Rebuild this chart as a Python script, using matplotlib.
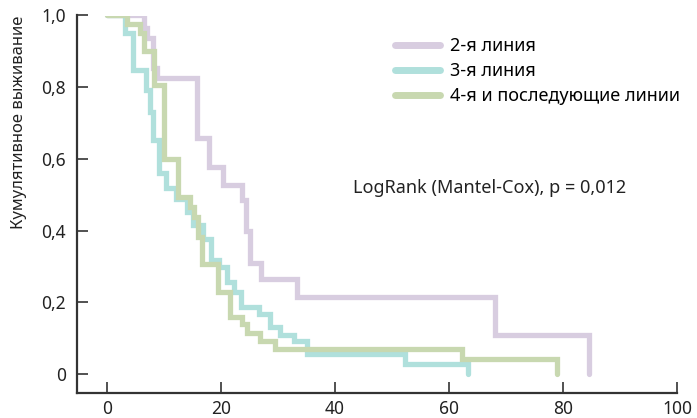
import matplotlib
matplotlib.use("Agg")
import matplotlib.pyplot as plt

# Kaplan-Meier steps (months, cumulative survival)
line2_t = [0, 6.4, 7.0, 8.1, 8.7, 15.7, 17.8, 20.4, 23.7, 24.4, 25.1, 27.0, 33.3, 68.0, 84.6]
line2_s = [1.0, 0.965, 0.937, 0.853, 0.826, 0.657, 0.577, 0.527, 0.485, 0.40, 0.31, 0.266, 0.214, 0.109, 0.0]

line3_t = [0, 3.2, 4.5, 6.8, 7.5, 8.1, 9.1, 10.4, 12.0, 14.0, 15.1, 16.9, 18.2, 19.6, 21.0,
           22.2, 23.5, 26.7, 28.6, 30.4, 32.7, 35.1, 52.3, 63.4]
line3_s = [1.0, 0.951, 0.849, 0.793, 0.732, 0.653, 0.56, 0.518, 0.489, 0.452, 0.415, 0.377, 0.317, 0.298, 0.258,
           0.228, 0.188, 0.167, 0.13, 0.108, 0.092, 0.055, 0.027, 0.0]

line4_t = [0, 3.4, 5.8, 6.4, 8.3, 9.9, 12.5, 14.6, 15.2, 16.0, 16.7, 19.4, 21.6, 23.7, 24.6, 26.9, 29.5, 62.2, 78.9]
line4_s = [1.0, 0.975, 0.951, 0.90, 0.807, 0.60, 0.494, 0.466, 0.438, 0.382, 0.307, 0.228, 0.158, 0.139, 0.114,
           0.092, 0.069, 0.041, 0.0]

labels = ["2-я линия", "3-я линия", "4-я и последующие линии"]
colors = ["#d8cde0", "#b0e0dc", "#c8d8b0"]

x_ticks = [0, 20, 40, 60, 80, 100]
y_ticks = [0, 0.2, 0.4, 0.6, 0.8, 1.0]
y_labels = ["0", "0,2", "0,4", "0,6", "0,8", "1,0"]

plt.rcParams["font.family"] = ["Noto Sans", "DejaVu Sans"]

fig = plt.figure(figsize=(6.97, 4.18), dpi=100)
ax = fig.add_axes([77 / 697, 1 - 393 / 418, 600 / 697, 377.5 / 418])

for t, s, c, lab in zip([line2_t, line3_t, line4_t], [line2_s, line3_s, line4_s], colors, labels):
    ax.step(t, s, where="post", color=c, lw=3.8, label=lab,
            solid_capstyle="round", solid_joinstyle="miter")

ax.set_xlim(-5.3, 100)
ax.set_ylim(-0.053, 1.0)
ax.set_xticks(x_ticks)
ax.set_yticks(y_ticks)
ax.set_yticklabels(y_labels)
ax.tick_params(direction="in", length=8, width=1.2, color="#333333",
               labelsize=12.5, labelcolor="#222222")
ax.tick_params(axis="y", pad=8)
ax.tick_params(axis="x", pad=5)

for side in ["top", "right"]:
    ax.spines[side].set_visible(False)
for side in ["left", "bottom"]:
    ax.spines[side].set_linewidth(1.6)
    ax.spines[side].set_color("#333333")

fig.text(19 / 697, 1 - 122 / 418, "Кумулятивное выживание", rotation=90,
         ha="center", va="center", fontsize=12, color="#222222")

ax.text(43.2, 0.52, "LogRank (Mantel-Cox), p = 0,012", fontsize=13,
        color="#222222", va="center", ha="left")

leg = ax.legend(loc="upper left", bbox_to_anchor=(395 / 697, 1 - 37 / 418),
                bbox_transform=fig.transFigure, frameon=False, fontsize=13,
                handlelength=2.5, handletextpad=0.55, labelspacing=0.4,
                borderpad=0, borderaxespad=0)
for h in leg.get_lines():
    h.set_linewidth(5)

fig.savefig("out.png", dpi=100)
